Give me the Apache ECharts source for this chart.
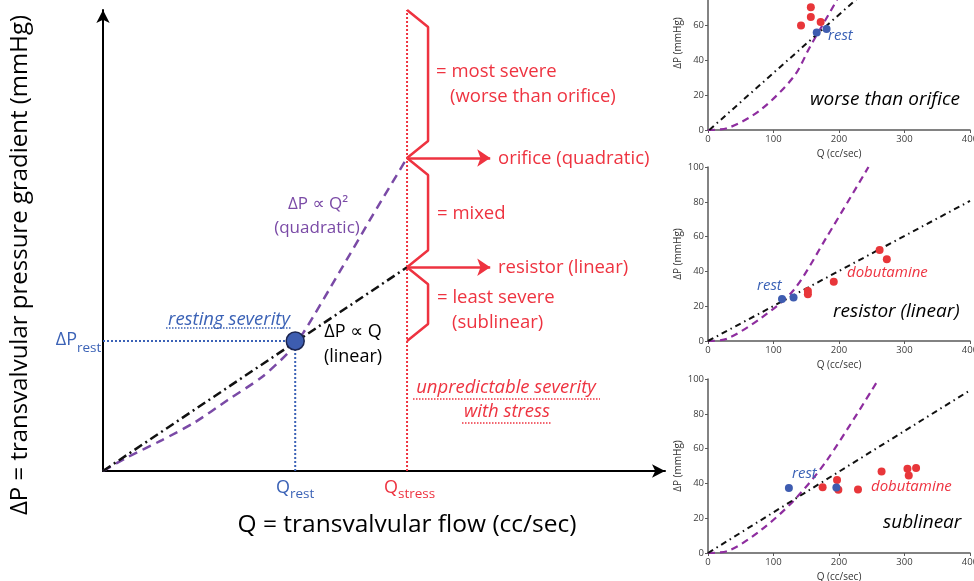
<!DOCTYPE html>
<html>
<head>
<meta charset="utf-8">
<title>Valve pressure-flow</title>
<script src="https://cdn.jsdelivr.net/npm/echarts@6/dist/echarts.min.js"></script>
<style>
  html, body { margin: 0; padding: 0; background: #fff; }
  #chart { width: 974px; height: 581px; }
</style>
</head>
<body>
<div id="chart"></div>
<script>
// main schematic (arbitrary units 0-100)
const Q_REST = 34.2;
const DP_REST = 28.2;
const Q_STRESS = 54.1;
const DP_ORIFICE = 67.9;
const DP_RESISTOR = 44.2;
const ARROW_END = 68.9;
const quadCurve = [[0, 0], [4.4, 3.0], [10.5, 6.7], [16.4, 10.6], [22.2, 15.4], [28.3, 20.4],
  [32.9, 25.6], [35.6, 29.9], [42.2, 43.4], [48.0, 55.5], [54.1, 67.9]];
const linearLine = [[0, 0], [Q_STRESS, DP_RESISTOR]];

// small panels: Q (cc/sec) vs dP (mmHg)
const p1Quad = [[0, 0], [29, 1], [80, 11.5], [131, 30.7], [156, 48], [197, 75], [215, 89]];
const p1Line = [[2, 0], [235, 78]];
const p1Rest = [[166, 56], [181, 58]];
const p1Stress = [[142, 60], [157, 65], [157, 70.6], [172, 62]];

const p2Quad = [[0, 0], [29, 1.3], [80, 12.9], [130.6, 29.2], [181, 59.6], [245, 100]];
const p2Line = [[0, 0], [400, 80.5]];
const p2Rest = [[113, 24.2], [130.6, 25]];
const p2Stress = [[152.5, 28.8], [152.5, 26.9], [192, 34], [262, 52.3], [273, 47]];

const p3Quad = [[0, 0], [29, 1], [80, 12.9], [130.6, 30], [181, 53], [260, 99.6]];
const p3Line = [[0, 0], [400, 93.5]];
const p3Rest = [[123.5, 37.4], [196, 37.6]];
const p3Stress = [[175, 37.8], [197, 42], [199, 36.3], [229, 36.5], [265, 46.8],
  [304.5, 48.4], [306.5, 44.5], [317.7, 48.8]];

const Q_TICKS = [0, 100, 200, 300, 400];

const RED = "#ee3340";
const BLUE = "#3b62b6";
const PURPLE = "#7a4aa6";
const PURPLE2 = "#8e2d9f";
const FONT = '"Open Sans", "DejaVu Sans", sans-serif';

const chart = echarts.init(document.getElementById("chart"));

// brace drawn beside the Q_stress line between lo and hi
function brace(lo, hi) {
  const dx = 3.74, d = 3.7;
  return [[Q_STRESS, hi], [Q_STRESS + dx, hi - d], [Q_STRESS + dx, lo + d], [Q_STRESS, lo]];
}

function txt(x, y, text, color, size, opts) {
  opts = opts || {};
  return {
    type: "text", x: x, y: y, rotation: opts.rotation || 0, z: 10,
    style: {
      text: text, fill: color,
      font: (opts.italic ? "italic " : "") + size + "px " + FONT,
      textAlign: opts.align || "left", align: opts.align || "left",
      textVerticalAlign: "middle", verticalAlign: "middle",
    },
  };
}
function dots(x1, x2, y, color) {
  return {
    type: "line", z: 10,
    shape: { x1: x1, y1: y, x2: x2, y2: y },
    style: { stroke: color, lineWidth: 1.5, lineDash: [1.5, 1.5] },
  };
}

const panelGrids = [
  { left: 708, right: 4, top: -44, height: 174 },
  { left: 708, right: 4, top: 167, height: 174 },
  { left: 708, right: 4, top: 379, height: 174 },
];

const xAxes = [{
  gridIndex: 0, type: "value", min: 0, max: 100,
  axisLine: { onZero: false, symbol: ["none", "arrow"], symbolSize: [10, 13], lineStyle: { color: "#000", width: 2 } },
  axisTick: { show: false }, axisLabel: { show: false }, splitLine: { show: false },
}];
const yAxes = [{
  gridIndex: 0, type: "value", min: 0, max: 100,
  axisLine: { onZero: false, symbol: ["none", "arrow"], symbolSize: [10, 13], lineStyle: { color: "#000", width: 2 } },
  axisTick: { show: false }, axisLabel: { show: false }, splitLine: { show: false },
}];
for (let i = 1; i <= 3; i++) {
  xAxes.push({
    gridIndex: i, type: "value", min: Q_TICKS[0], max: Q_TICKS[Q_TICKS.length - 1], interval: 100,
    name: "Q (cc/sec)", nameLocation: "middle", nameGap: 19,
    nameTextStyle: { fontSize: 10, color: "#333", fontFamily: FONT },
    axisLine: { onZero: false, lineStyle: { color: "#5a5a5a", width: 1.5 } },
    axisTick: { show: true, length: 3, lineStyle: { color: "#5a5a5a" } },
    axisLabel: { fontSize: 9.5, color: "#404040", margin: 4, fontFamily: FONT },
    splitLine: { show: false },
  });
  yAxes.push({
    gridIndex: i, type: "value", min: 0, max: 100, interval: 20,
    name: "ΔP (mmHg)", nameLocation: "middle", nameGap: 25, nameRotate: 90,
    nameTextStyle: { fontSize: 10, color: "#333", fontFamily: FONT },
    axisLine: { show: true, onZero: false, lineStyle: { color: "#5a5a5a", width: 1.5 } },
    axisTick: { show: true, length: 3, lineStyle: { color: "#5a5a5a" } },
    axisLabel: { fontSize: 9.5, color: "#404040", margin: 4, fontFamily: FONT },
    splitLine: { show: false },
  });
}

const series = [
  {
    type: "line", data: quadCurve, smooth: 0.25, showSymbol: false, z: 3,
    lineStyle: { color: PURPLE, width: 2.5, type: [9, 6] },
  },
  {
    type: "line", data: linearLine, showSymbol: false, z: 3,
    lineStyle: { color: "#111", width: 2.5, type: [9, 4, 2, 4] },
  },
  {
    type: "line", data: [[Q_STRESS, 0], [Q_STRESS, 100]], showSymbol: false, z: 2,
    lineStyle: { color: RED, width: 2, type: [2, 2] },
    markLine: {
      silent: true, symbol: ["none", "arrow"], symbolSize: 13,
      label: { show: false },
      lineStyle: { color: RED, width: 2.5, type: "solid" },
      data: [
        [{ coord: [Q_STRESS, DP_ORIFICE] }, { coord: [ARROW_END, DP_ORIFICE] }],
        [{ coord: [Q_STRESS, DP_RESISTOR] }, { coord: [ARROW_END, DP_RESISTOR] }],
      ],
    },
  },
  { type: "line", data: brace(DP_ORIFICE, 100), showSymbol: false, lineStyle: { color: RED, width: 2.5 } },
  { type: "line", data: brace(DP_RESISTOR, DP_ORIFICE), showSymbol: false, lineStyle: { color: RED, width: 2.5 } },
  { type: "line", data: brace(DP_REST, DP_RESISTOR), showSymbol: false, lineStyle: { color: RED, width: 2.5 } },
  {
    type: "line", data: [[0, DP_REST], [Q_REST, DP_REST]], showSymbol: false,
    lineStyle: { color: BLUE, width: 2, type: [2, 2] },
  },
  {
    type: "line", data: [[Q_REST, DP_REST], [Q_REST, 0]], showSymbol: false,
    lineStyle: { color: BLUE, width: 2, type: [2, 2] },
  },
  {
    type: "scatter", data: [[Q_REST, DP_REST]], symbolSize: 18, z: 5,
    itemStyle: { color: "#3d5db0", borderColor: "#1b2550", borderWidth: 1.5, opacity: 1 },
  },
];

const panels = [
  [p1Quad, p1Line, p1Rest, p1Stress],
  [p2Quad, p2Line, p2Rest, p2Stress],
  [p3Quad, p3Line, p3Rest, p3Stress],
];
panels.forEach(function (p, k) {
  const i = k + 1;
  series.push(
    {
      type: "line", xAxisIndex: i, yAxisIndex: i, data: p[0], smooth: 0.3, showSymbol: false,
      lineStyle: { color: PURPLE2, width: 2.2, type: [7, 5] },
    },
    {
      type: "line", xAxisIndex: i, yAxisIndex: i, data: p[1], showSymbol: false,
      lineStyle: { color: "#111", width: 2, type: [6, 4, 1.5, 4] },
    },
    {
      type: "scatter", xAxisIndex: i, yAxisIndex: i, data: p[3], symbolSize: 8, z: 4,
      itemStyle: { color: "#e8363a", opacity: 1 },
    },
    {
      type: "scatter", xAxisIndex: i, yAxisIndex: i, data: p[2], symbolSize: 8, z: 4,
      itemStyle: { color: "#3e5cb0", opacity: 1 },
    }
  );
});

const graphics = [
  txt(20, 265, "ΔP = transvalvular pressure gradient (mmHg)", "#000", 24, { align: "center", rotation: Math.PI / 2 }),
  txt(407, 525, "Q = transvalvular flow (cc/sec)", "#000", 24.5, { align: "center" }),
  txt(436, 72, "= most severe", RED, 18.5),
  txt(450, 97, "(worse than orifice)", RED, 18.5),
  txt(498, 159, "orifice (quadratic)", RED, 18.5),
  txt(437, 214, "= mixed", RED, 18.5),
  txt(498, 268, "resistor (linear)", RED, 18.5),
  txt(437, 298, "= least severe", RED, 18.5),
  txt(452, 323, "(sublinear)", RED, 18.5),
  txt(506, 388, "unpredictable severity", RED, 18.5, { italic: true, align: "center" }),
  txt(507, 412, "with stress", RED, 18.5, { italic: true, align: "center" }),
  dots(413, 600, 399, RED),
  dots(462, 552, 423, RED),
  txt(318, 204, "ΔP ∝ Q²", PURPLE, 17, { align: "center" }),
  txt(317, 228, "(quadratic)", PURPLE, 17, { align: "center" }),
  txt(353, 332, "ΔP ∝ Q", "#000", 18, { align: "center" }),
  txt(353, 357, "(linear)", "#000", 18, { align: "center" }),
  txt(229, 320, "resting severity", BLUE, 18.5, { italic: true, align: "center" }),
  dots(166, 292, 328, BLUE),
  txt(77, 340, "ΔP", BLUE, 18, { align: "right" }),
  txt(77, 348, "rest", BLUE, 13.5),
  txt(290, 488, "Q", BLUE, 18, { align: "right" }),
  txt(290, 494, "rest", BLUE, 13.5),
  txt(398, 488, "Q", RED, 18, { align: "right" }),
  txt(398, 494, "stress", RED, 13.5),
  // small panel annotations
  txt(828, 36, "rest", BLUE, 15, { italic: true }),
  txt(810, 100, "worse than orifice", "#000", 19, { italic: true }),
  txt(757, 286, "rest", BLUE, 15, { italic: true }),
  txt(847, 273, "dobutamine", RED, 15, { italic: true }),
  txt(833, 312, "resistor (linear)", "#000", 19, { italic: true }),
  txt(792, 474, "rest", BLUE, 15, { italic: true }),
  txt(871, 487, "dobutamine", RED, 15, { italic: true }),
  txt(883, 523, "sublinear", "#000", 19, { italic: true }),
];

chart.setOption({
  animation: false,
  backgroundColor: "#fff",
  textStyle: { fontFamily: FONT },
  grid: [{ left: 103, right: 309, top: 10, bottom: 110, outerBoundsMode: "none" }]
    .concat(panelGrids.map(function (g) { return Object.assign({ outerBoundsMode: "none" }, g); })),
  xAxis: xAxes,
  yAxis: yAxes,
  series: series,
  graphic: { elements: graphics },
});
</script>
</body>
</html>
